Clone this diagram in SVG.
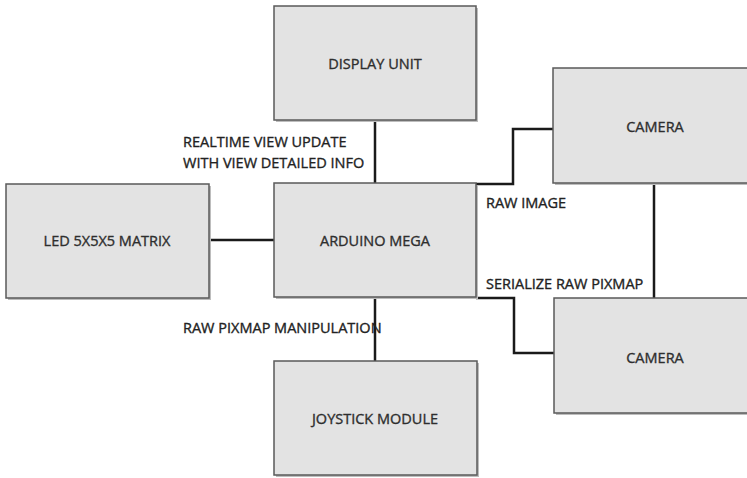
<svg xmlns="http://www.w3.org/2000/svg" width="747" height="478" viewBox="0 0 747 478">
<defs>
<style>
.box{fill:#e3e3e3;stroke:#5a5a5a;stroke-width:1.5}
.sh{fill:#bdbdbd}
.t{font-family:"Open Sans","Liberation Sans",sans-serif;font-size:14.5px;fill:#2e2e2e;stroke:#2e2e2e;stroke-width:0.35;text-anchor:middle;dominant-baseline:central}
.l{font-family:"Open Sans","Liberation Sans",sans-serif;font-size:14.5px;fill:#222;stroke:#222;stroke-width:0.35}
.c{fill:none;stroke:#1a1a1a;stroke-width:2.5}
</style>
</defs>
<rect width="747" height="478" fill="#fff"/>
<g id="connectors">
<path class="c" d="M375 120V183"/>
<path class="c" d="M209 240H274"/>
<path class="c" d="M476 184H513V129H553"/>
<path class="c" d="M476 298H514V353H554"/>
<path class="c" d="M654 183V298"/>
<path class="c" d="M375 297V361"/>
</g>
<g id="display">
<rect class="sh" x="276" y="8" width="202" height="114"/>
<rect class="box" x="274" y="6" width="202" height="114"/>
<text class="t" x="375" y="63">DISPLAY UNIT</text>
</g>
<g id="arduino">
<rect class="sh" x="276" y="185" width="202" height="114"/>
<rect class="box" x="274" y="183" width="202" height="114"/>
<text class="t" x="375" y="240">ARDUINO MEGA</text>
</g>
<g id="led">
<rect class="sh" x="8" y="186" width="203" height="114"/>
<rect class="box" x="6" y="184" width="203" height="114"/>
<text class="t" x="107" y="240">LED 5X5X5 MATRIX</text>
</g>
<g id="joystick">
<rect class="sh" x="276" y="363" width="203" height="114"/>
<rect class="box" x="274" y="361" width="203" height="114"/>
<text class="t" x="375" y="418">JOYSTICK MODULE</text>
</g>
<g id="camera1">
<rect class="sh" x="555" y="70" width="200" height="115"/>
<rect class="box" x="553" y="68" width="200" height="115"/>
<text class="t" x="655" y="126">CAMERA</text>
</g>
<g id="camera2">
<rect class="sh" x="556" y="300" width="200" height="115"/>
<rect class="box" x="554" y="298" width="200" height="115"/>
<text class="t" x="655" y="357">CAMERA</text>
</g>
<g id="labels">
<text class="l" x="183" y="147">REALTIME VIEW UPDATE</text>
<text class="l" x="183" y="168">WITH VIEW DETAILED INFO</text>
<text class="l" x="486" y="208">RAW IMAGE</text>
<text class="l" x="486" y="289">SERIALIZE RAW PIXMAP</text>
<text class="l" x="183" y="333">RAW PIXMAP MANIPULATION</text>
</g>
</svg>
